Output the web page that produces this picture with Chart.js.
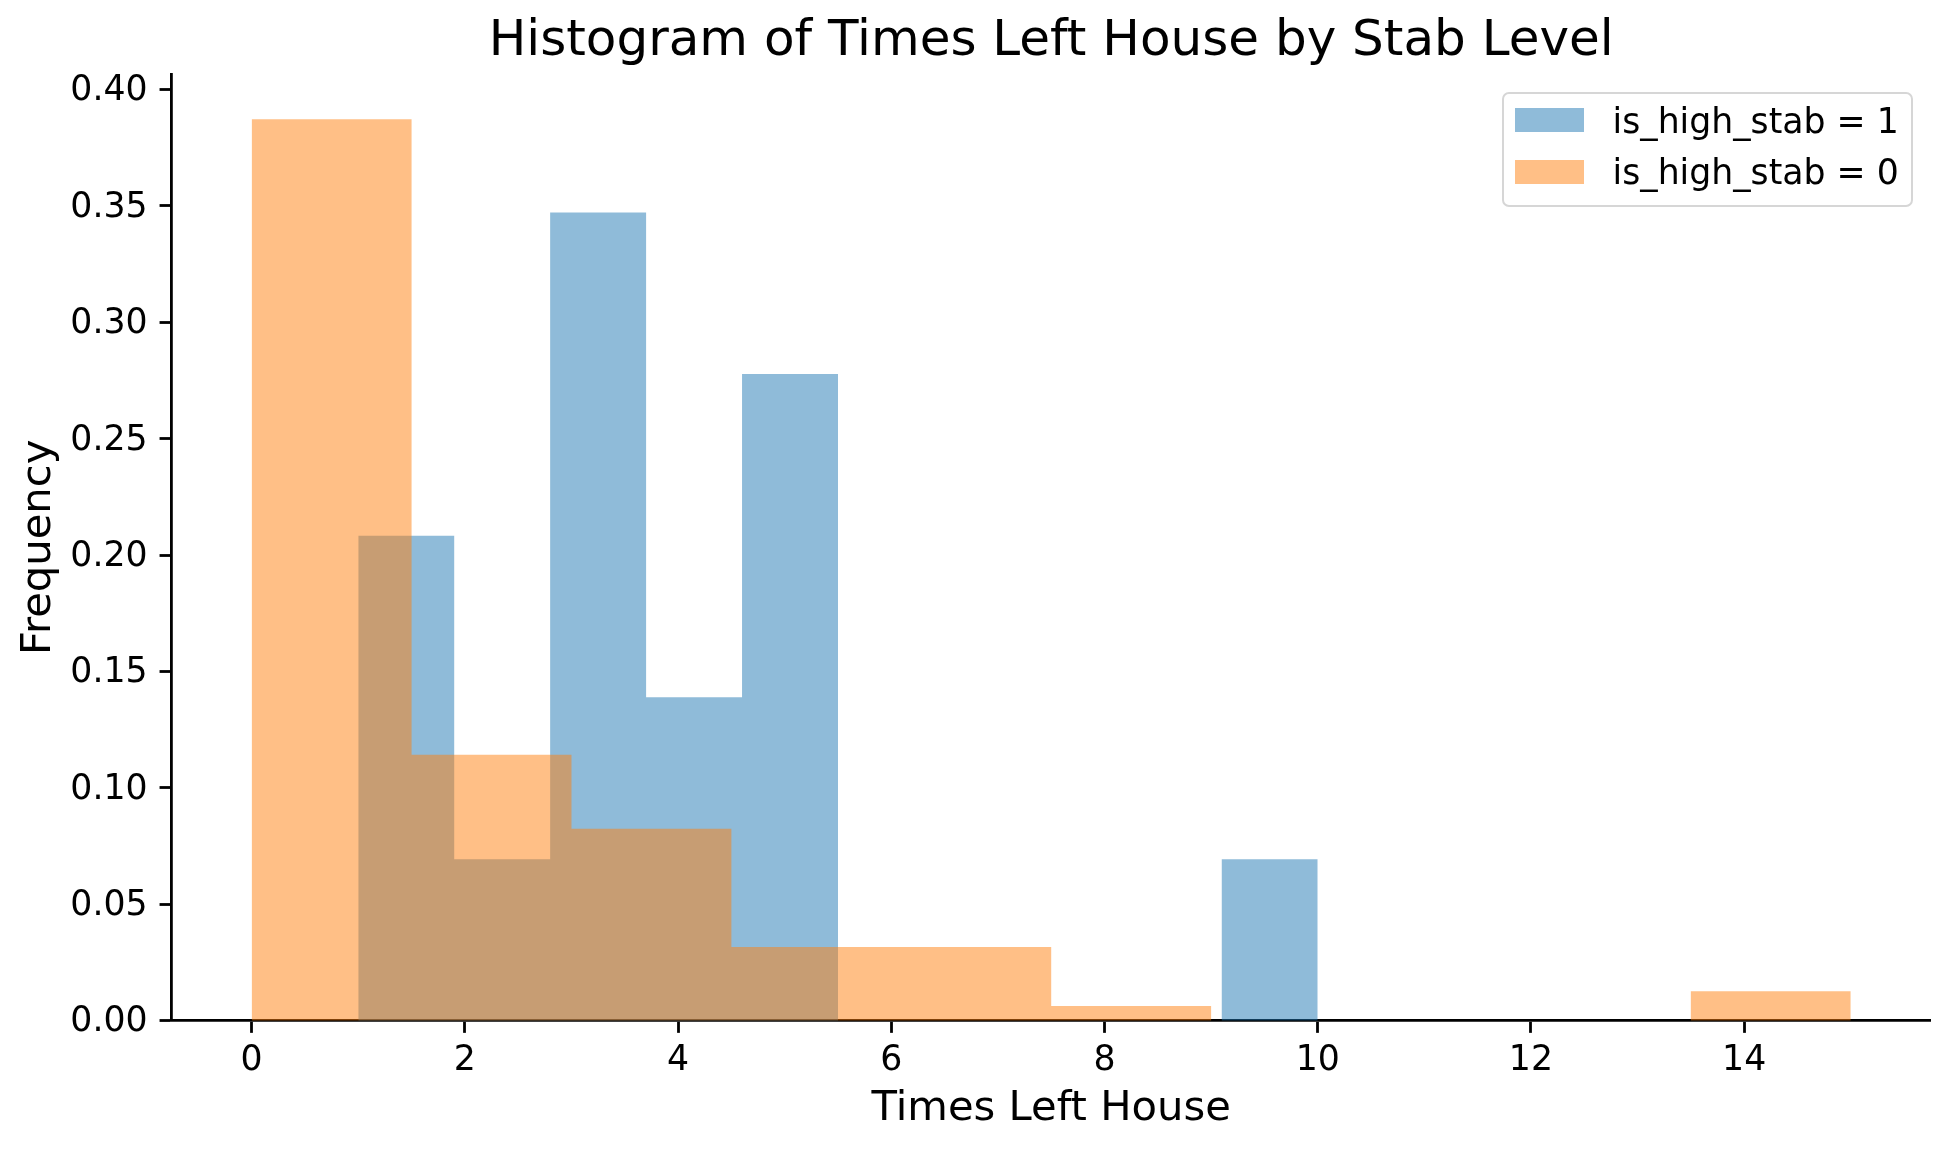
<!DOCTYPE html>
<html>
<head>
<meta charset="utf-8">
<title>Histogram of Times Left House by Stab Level</title>
<script src="https://cdn.jsdelivr.net/npm/chart.js@4.4.1/dist/chart.umd.min.js"></script>
<style>
  html, body { margin: 0; padding: 0; background: #fff; }
  #wrap { position: relative; width: 1950px; height: 1150px; }
  #legend {
    position: absolute; left: 1501.7px; top: 92.3px; width: 411.6px; height: 114.4px;
    box-sizing: border-box; border: 2.7px solid #d6d6d6; border-radius: 7px;
    background: rgba(255, 255, 255, 0.8);
    font-family: 'DejaVu Sans', sans-serif; font-size: 34.7px; color: #000;
  }
  #legend .swatch { position: absolute; left: 11.6px; width: 69px; height: 23.7px; }
  #legend .label { position: absolute; left: 108.9px; line-height: 40px; white-space: nowrap; }
</style>
</head>
<body>
<div id="wrap">
  <canvas id="chart" width="1950" height="1150"></canvas>
  <div id="legend"></div>
</div>
<script>
// series names
const seriesNames = ['is_high_stab = 1', 'is_high_stab = 0'];

// is_high_stab = 1 : bin edges and density per bin
const highEdges = [1, 1.9, 2.8, 3.7, 4.6, 5.5, 6.4, 7.3, 8.2, 9.1, 10];
const highFreq = [0.2083, 0.0694, 0.3472, 0.1389, 0.2778, 0, 0, 0, 0, 0.0694];

// is_high_stab = 0 : bin edges and density per bin
const lowEdges = [0, 1.5, 3, 4.5, 6, 7.5, 9, 10.5, 12, 13.5, 15];
const lowFreq = [0.3873, 0.1143, 0.0825, 0.0317, 0.0317, 0.0063, 0, 0, 0, 0.0127];

// axes
const xTicks = [0, 2, 4, 6, 8, 10, 12, 14];
const yTicks = [0, 0.05, 0.10, 0.15, 0.20, 0.25, 0.30, 0.35, 0.40];
const xRange = [-0.75, 15.75];
const yRange = [0, 0.4067];

const colors = ['rgba(31, 119, 180, 0.5)', 'rgba(255, 127, 14, 0.5)'];

Chart.defaults.font.family = "'DejaVu Sans', sans-serif";
Chart.defaults.color = '#000';

// histogram outline as step points on the bin edges (last edge closes the last bin)
function steps(edges, freq) {
  return edges.map((x, i) => ({ x: x, y: i < freq.length ? freq[i] : 0 }));
}

const tickFont = { size: 34.7, lineHeight: 1.2 };
const labelFont = { size: 41.7, lineHeight: 1.2 };
const grid = {
  display: true, drawOnChartArea: false, drawTicks: true, offset: false,
  tickLength: 12.15, tickWidth: 2.8, tickColor: '#000'
};
const border = { display: true, color: '#000', width: 2.8 };

// 'before': each edge's value holds until the next edge
const histStyle = {
  stepped: 'before', fill: 'origin', borderWidth: 0, borderColor: 'transparent',
  pointRadius: 0, pointHoverRadius: 0
};

new Chart(document.getElementById('chart'), {
  type: 'line',
  data: {
    datasets: [
      Object.assign({ label: seriesNames[0], data: steps(highEdges, highFreq),
        backgroundColor: colors[0], order: 1 }, histStyle),
      Object.assign({ label: seriesNames[1], data: steps(lowEdges, lowFreq),
        backgroundColor: colors[1], order: 0 }, histStyle)
    ]
  },
  options: {
    responsive: false,
    animation: false,
    devicePixelRatio: 1,
    events: [],
    layout: { padding: { left: 0, right: 19.3, top: 0, bottom: 0 } },
    scales: {
      x: {
        type: 'linear', position: 'bottom', min: xRange[0], max: xRange[1], offset: false, z: 1,
        grid: grid, border: border,
        afterBuildTicks: s => { s.ticks = xTicks.map(v => ({ value: v })); },
        ticks: { font: tickFont, color: '#000', padding: 6.85, maxRotation: 0, autoSkip: false,
          callback: v => String(v) },
        title: { display: true, text: 'Times Left House', font: labelFont, color: '#000',
          padding: { top: 0, bottom: 16.1 } },
        afterFit: s => { s.height = 129.3; }
      },
      y: {
        type: 'linear', position: 'left', min: yRange[0], max: yRange[1], z: 1,
        grid: grid, border: border,
        afterBuildTicks: s => { s.ticks = yTicks.map(v => ({ value: v })); },
        ticks: { font: tickFont, color: '#000', padding: 12, labelOffset: 1.75,
          callback: v => v.toFixed(2) },
        title: { display: true, text: 'Frequency', font: labelFont, color: '#000',
          padding: { top: 14.1, bottom: 0 } },
        afterFit: s => { s.width = 171.7; }
      }
    },
    plugins: {
      legend: { display: false },
      tooltip: { enabled: false },
      title: {
        display: true, text: 'Histogram of Times Left House by Stab Level',
        fullSize: false, color: '#000',
        font: { size: 50, weight: 'normal', lineHeight: 1.2 },
        padding: { top: 12, bottom: 2 }
      }
    }
  }
});

// legend box like matplotlib's, text kept as DOM text
const legend = document.getElementById('legend');
const swatchTop = [14, 65.7];
const labelTop = [7, 58];
seriesNames.forEach((name, i) => {
  const sw = document.createElement('div');
  sw.className = 'swatch';
  sw.style.top = swatchTop[i] + 'px';
  sw.style.background = colors[i];
  legend.appendChild(sw);
  const lb = document.createElement('div');
  lb.className = 'label';
  lb.style.top = labelTop[i] + 'px';
  lb.textContent = name;
  legend.appendChild(lb);
});
</script>
</body>
</html>
